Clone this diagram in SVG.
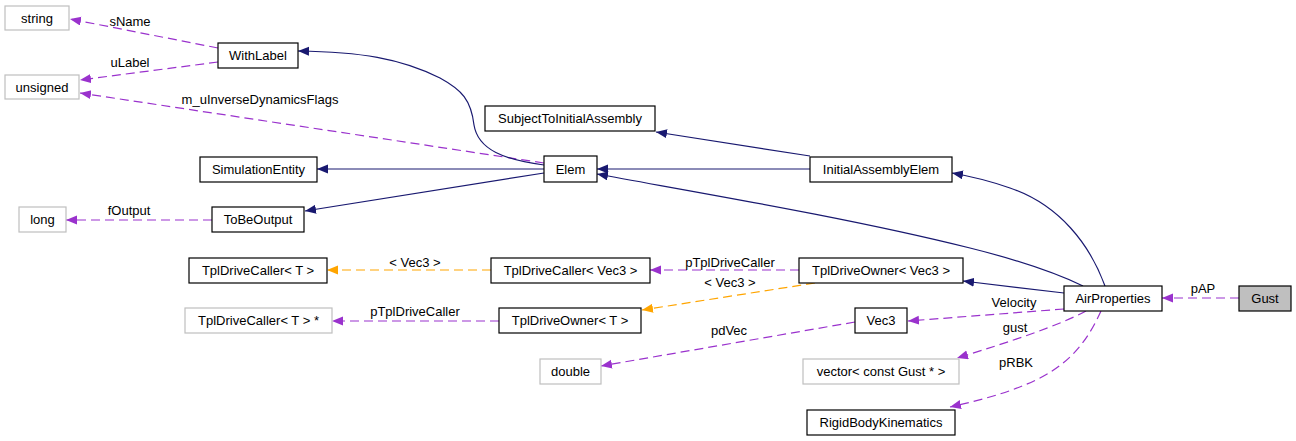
<svg xmlns="http://www.w3.org/2000/svg" width="1296" height="441" viewBox="0 0 1296 441">
<style>
.n rect{fill:#fff;stroke:#000;stroke-width:1.2}
.g rect{fill:#fff;stroke:#bfbfbf;stroke-width:1.2}
.hl rect{fill:#bfbfbf;stroke:#000;stroke-width:1.2}
text{font-family:"Liberation Sans",Arial,sans-serif;font-size:13px;fill:#000;text-anchor:middle}
.inh{fill:none;stroke:#191970;stroke-width:1.2;marker-end:url(#aN)}
.use{fill:none;stroke:#9a32cd;stroke-width:1.2;stroke-dasharray:9,5;marker-end:url(#aP)}
.tpl{fill:none;stroke:#ffa500;stroke-width:1.2;stroke-dasharray:9,5;marker-end:url(#aO)}
</style>
<defs>
<marker id="aN" markerUnits="userSpaceOnUse" markerWidth="12" markerHeight="10" refX="11" refY="4.5" orient="auto"><path d="M0,0 L11,4.5 L0,9 Z" fill="#191970"/></marker>
<marker id="aP" markerUnits="userSpaceOnUse" markerWidth="12" markerHeight="10" refX="11" refY="4.5" orient="auto"><path d="M0,0 L11,4.5 L0,9 Z" fill="#9a32cd"/></marker>
<marker id="aO" markerUnits="userSpaceOnUse" markerWidth="12" markerHeight="10" refX="11" refY="4.5" orient="auto"><path d="M0,0 L11,4.5 L0,9 Z" fill="#ffa500"/></marker>
</defs>
<rect width="1296" height="441" fill="#fff"/>
<g id="connectors">
<path class="use" d="M218,48 L70,19"/>
<text x="130" y="26">sName</text>
<path class="use" d="M218,62 L80,80"/>
<text x="130" y="67">uLabel</text>
<path class="use" d="M544,163 L80,93"/>
<text x="260" y="104">m_uInverseDynamicsFlags</text>
<path class="inh" d="M544,165 C505,160 478,150 474,125 C471,100 462,90 440,78 C400,58 360,52 298,51"/>
<path class="inh" d="M544,169 L317,169"/>
<path class="inh" d="M544,173 L305,211"/>
<path class="use" d="M212,220 L66,220"/>
<text x="129" y="215">fOutput</text>
<path class="inh" d="M810,156 L656,132"/>
<path class="inh" d="M810,169 L597,169"/>
<path class="inh" d="M1083,286 C1050,270 1010,258 970,248 C850,218 700,193 597,174"/>
<path class="inh" d="M1105,286 C1090,245 1060,205 1010,188 C990,181 975,177 952,173"/>
<path class="inh" d="M1064,293 L963,281"/>
<path class="use" d="M799,270 L650,270"/>
<text x="730" y="267">pTplDriveCaller</text>
<path class="tpl" d="M815,283 L642,310"/>
<text x="730" y="287">&lt; Vec3 &gt;</text>
<path class="tpl" d="M491,270 L327,270"/>
<text x="415" y="267">&lt; Vec3 &gt;</text>
<path class="use" d="M499,321 L332,321"/>
<text x="415" y="316">pTplDriveCaller</text>
<path class="use" d="M855,322 L601,366"/>
<text x="729" y="335">pdVec</text>
<path class="use" d="M1064,309 L908,321"/>
<text x="1014" y="307">Velocity</text>
<path class="use" d="M1086,311 C1060,325 1010,342 957,358"/>
<text x="1015" y="332">gust</text>
<path class="use" d="M1101,311 C1090,335 1075,360 1040,378 C1010,393 980,400 950,407"/>
<text x="1016" y="367">pRBK</text>
<path class="use" d="M1239,298 L1162,298"/>
<text x="1203" y="293">pAP</text>
</g>
<g id="string" class="g"><rect x="5" y="6" width="64" height="24"/><text x="37" y="23">string</text></g>
<g id="unsigned" class="g"><rect x="5" y="75" width="74" height="24"/><text x="42" y="92">unsigned</text></g>
<g id="WithLabel" class="n"><rect x="218" y="43" width="80" height="25"/><text x="258" y="60">WithLabel</text></g>
<g id="SimulationEntity" class="n"><rect x="200" y="157" width="117" height="25"/><text x="258.5" y="174">SimulationEntity</text></g>
<g id="long" class="g"><rect x="19" y="207" width="47" height="25"/><text x="42.5" y="224">long</text></g>
<g id="ToBeOutput" class="n"><rect x="212" y="207" width="92" height="25"/><text x="258" y="224">ToBeOutput</text></g>
<g id="TplDriveCallerT" class="n"><rect x="189" y="258" width="138" height="25"/><text x="258" y="275">TplDriveCaller&lt; T &gt;</text></g>
<g id="TplDriveCallerTPtr" class="g"><rect x="185" y="308" width="147" height="25"/><text x="258.5" y="325">TplDriveCaller&lt; T &gt; *</text></g>
<g id="SubjectToInitialAssembly" class="n"><rect x="485" y="106" width="170" height="25"/><text x="570" y="123">SubjectToInitialAssembly</text></g>
<g id="Elem" class="n"><rect x="544" y="156" width="53" height="26"/><text x="570.5" y="174">Elem</text></g>
<g id="TplDriveCallerVec3" class="n"><rect x="491" y="258" width="159" height="25"/><text x="570.5" y="275">TplDriveCaller&lt; Vec3 &gt;</text></g>
<g id="TplDriveOwnerT" class="n"><rect x="499" y="308" width="142" height="25"/><text x="570" y="325">TplDriveOwner&lt; T &gt;</text></g>
<g id="double" class="g"><rect x="540" y="359" width="61" height="25"/><text x="570.5" y="376">double</text></g>
<g id="InitialAssemblyElem" class="n"><rect x="810" y="157" width="142" height="25"/><text x="881" y="174">InitialAssemblyElem</text></g>
<g id="TplDriveOwnerVec3" class="n"><rect x="799" y="258" width="164" height="25"/><text x="881" y="275">TplDriveOwner&lt; Vec3 &gt;</text></g>
<g id="Vec3" class="n"><rect x="855" y="308" width="52" height="25"/><text x="881" y="325">Vec3</text></g>
<g id="vectorGust" class="g"><rect x="803" y="359" width="156" height="25"/><text x="881" y="376">vector&lt; const Gust * &gt;</text></g>
<g id="RigidBodyKinematics" class="n"><rect x="807" y="410" width="148" height="25"/><text x="881" y="427">RigidBodyKinematics</text></g>
<g id="AirProperties" class="n"><rect x="1064" y="286" width="98" height="25"/><text x="1113" y="303">AirProperties</text></g>
<g id="Gust" class="hl"><rect x="1239" y="286" width="52" height="25"/><text x="1265" y="303">Gust</text></g>
</svg>
